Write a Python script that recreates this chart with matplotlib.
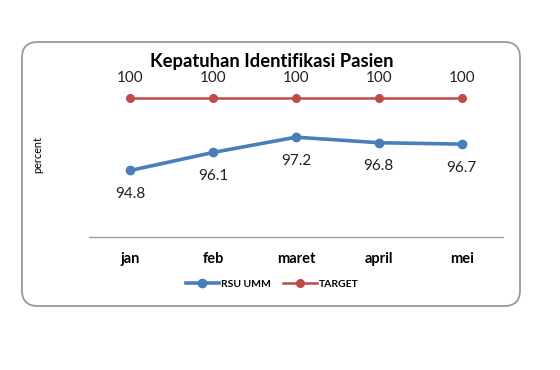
import matplotlib
matplotlib.use("Agg")
import matplotlib.pyplot as plt
from matplotlib.patches import FancyBboxPatch

categories = ["jan", "feb", "maret", "april", "mei"]
rsu_umm = [94.8, 96.1, 97.2, 96.8, 96.7]
target = [100, 100, 100, 100, 100]

plt.rcParams['font.family'] = ['Lato', 'DejaVu Sans']

fig = plt.figure(figsize=(5.6, 3.7), dpi=100)
fig.patch.set_facecolor('white')

# rounded border
border = FancyBboxPatch((22/560, 1-306/370), (520-22)/560, (306-42)/370,
                        boxstyle="round,pad=0,rounding_size=0.028",
                        transform=fig.transFigure, facecolor='none',
                        edgecolor='#9a9a9a', linewidth=1.3, mutation_aspect=560/370,
                        zorder=-1)
fig.patches.append(border)

ax = fig.add_axes([89/560, 1-237/370, (503-89)/560, (237-84.5)/370])
ax.set_facecolor('none')
x = list(range(len(categories)))
ax.plot(x, rsu_umm, color='#4A7EBB', lw=2.6, marker='o', ms=6, label='RSU UMM')
ax.plot(x, target, color='#BE4B48', lw=1.8, marker='o', ms=5.5, label='TARGET')

for xi, v in zip(x, rsu_umm):
    ax.annotate(f"{v}", (xi, v), xytext=(0, -17), textcoords='offset points',
                ha='center', va='center', fontsize=11, color='#222222')
for xi, v in zip(x, target):
    ax.annotate(f"{v}", (xi, v), xytext=(0, 15), textcoords='offset points',
                ha='center', va='center', fontsize=11, color='#222222')

ax.set_xlim(-0.5, 4.5)
ax.set_ylim(90, 101)
ax.set_yticks([])
ax.set_xticks(x)
ax.set_xticklabels(categories, fontsize=10.5, fontweight='bold')
ax.tick_params(axis='x', length=0, pad=11)
for s in ['top', 'right', 'left']:
    ax.spines[s].set_visible(False)
ax.spines['bottom'].set_color('#a0a0a0')
ax.spines['bottom'].set_linewidth(1.0)

fig.text(272/560, 1-62/370, "Kepatuhan Identifikasi Pasien", ha='center', va='center',
         fontsize=13.2, fontweight='bold', color='black')
fig.text(38/560, 1-155/370, "percent", rotation=90, ha='center', va='center', fontsize=7.8)

leg = fig.legend(loc='center', bbox_to_anchor=(272/560, 1-284/370), ncol=2, frameon=False,
                 prop={'size': 7.5, 'weight': 'bold'}, handlelength=3.2, handletextpad=0.2,
                 columnspacing=1.2)

fig.savefig("out.png", dpi=100, facecolor='white')
